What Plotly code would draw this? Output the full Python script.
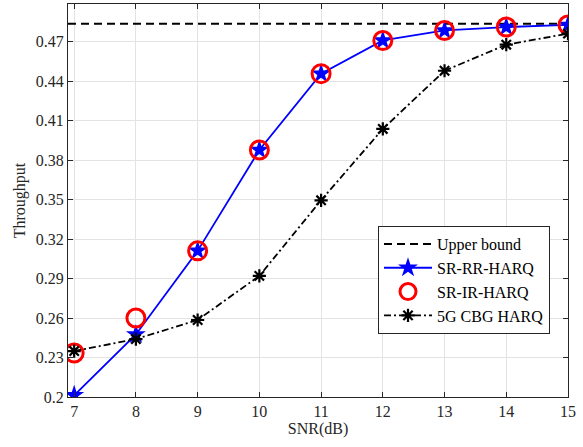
import plotly.graph_objects as go

snr = [7, 8, 9, 10, 11, 12, 13, 14, 15]
upper_bound = 0.4835
sr_rr_harq = [0.2013, 0.2475, 0.311, 0.3876, 0.4456, 0.4708, 0.4784, 0.4810, 0.4826]
sr_ir_harq = [0.2334, 0.2600, 0.311, 0.3876, 0.4456, 0.4708, 0.4784, 0.4810, 0.4826]
cbg_harq = [0.2349, 0.2440, 0.2585, 0.2920, 0.3494, 0.4036, 0.4478, 0.4676, 0.4760]
y_ticks = [0.2, 0.23, 0.26, 0.29, 0.32, 0.35, 0.38, 0.41, 0.44, 0.47]
y_tick_labels = ["0.2", "0.23", "0.26", "0.29", "0.32", "0.35", "0.38", "0.41", "0.44", "0.47"]

x_range = [6.9, 15]
y_range = [0.2, 0.4985]

font_family = "Times New Roman, Liberation Serif, serif"
axis_color = "#262626"

fig = go.Figure()
fig.add_trace(go.Scatter(
    x=x_range, y=[upper_bound, upper_bound], mode="lines", name="Upper bound",
    line=dict(color="black", width=2, dash="8px,5px"),
))
fig.add_trace(go.Scatter(
    x=snr, y=sr_rr_harq, mode="lines+markers", name="SR-RR-HARQ",
    line=dict(color="#0000ff", width=1.8),
    marker=dict(symbol="star", size=15, color="#0000ff"),
))
fig.add_trace(go.Scatter(
    x=snr, y=sr_ir_harq, mode="markers", name="SR-IR-HARQ",
    marker=dict(symbol="circle-open", size=18, color="#ff0000", line=dict(width=3, color="#ff0000")),
))
fig.add_trace(go.Scatter(
    x=snr, y=cbg_harq, mode="lines+markers", name="5G CBG HARQ",
    line=dict(color="black", width=1.8, dash="7px,3px,2px,3px"),
    marker=dict(symbol="asterisk-open", size=11, color="black", line=dict(width=2.2, color="black")),
))

axis_common = dict(
    showline=True, linecolor=axis_color, linewidth=1, mirror="ticks",
    ticks="inside", ticklen=5, tickcolor=axis_color,
    showgrid=True, gridcolor="#e3e3e3", gridwidth=1, zeroline=False,
    tickfont=dict(family=font_family, size=16, color=axis_color),
)

fig.update_xaxes(
    range=x_range, tickvals=snr, ticktext=[str(v) for v in snr],
    title=dict(text="SNR(dB)", font=dict(family=font_family, size=16, color=axis_color), standoff=2),
    **axis_common,
)
fig.update_yaxes(
    range=y_range, tickvals=y_ticks, ticktext=y_tick_labels,
    title=dict(text="Throughput", font=dict(family=font_family, size=16, color=axis_color), standoff=6),
    **axis_common,
)

fig.update_layout(
    width=583, height=447,
    margin=dict(l=68, r=15, t=4, b=50),
    plot_bgcolor="white", paper_bgcolor="white",
    font=dict(family=font_family, size=16, color="black"),
    legend=dict(
        x=0.964, y=0.435, xanchor="right", yanchor="top",
        xref="paper", yref="paper",
        bgcolor="white", bordercolor=axis_color, borderwidth=1,
        font=dict(family=font_family, size=16, color="black"),
        tracegroupgap=0, itemwidth=48,
    ),
)

fig.write_html("out.html", config={"displayModeBar": False},
               post_script="document.body.style.margin='0';")
